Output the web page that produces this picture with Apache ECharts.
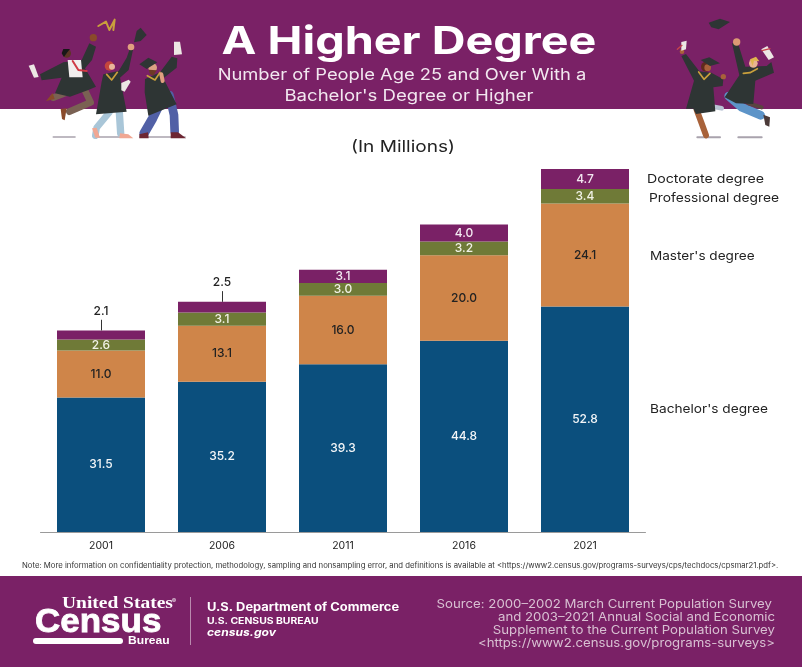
<!DOCTYPE html>
<html>
<head>
<meta charset="utf-8">
<title>A Higher Degree</title>
<script src="https://cdn.jsdelivr.net/npm/echarts@6/dist/echarts.min.js"></script>
<style>
  html, body { margin: 0; padding: 0; background: #fff; }
  #chart { width: 802px; height: 667px; }
</style>
</head>
<body>
<div id="chart"></div>
<script>
const years = ['2001', '2006', '2011', '2016', '2021'];
const bachelor = [31.5, 35.2, 39.3, 44.8, 52.8];
const master = [11.0, 13.1, 16.0, 20.0, 24.1];
const professional = [2.6, 3.1, 3.0, 3.2, 3.4];
const doctorate = [2.1, 2.5, 3.1, 4.0, 4.7];
// these two years have their doctorate label above the bar, on a leader line
const leaderYears = ['2001', '2006'];

const PURPLE = '#7a2166';
const NAVY = '#0b4f7d';
const ORANGE = '#cf8549';
const OLIVE = '#6f7a37';
const FONT = 'Inter, "Noto Sans", sans-serif';

const chart = echarts.init(document.getElementById('chart'));

function barSeries(name, values, color, labelColor) {
  return {
    name: name,
    type: 'bar',
    stack: 'total',
    barWidth: 88,
    itemStyle: { color: color },
    label: {
      show: true,
      position: 'inside',
      color: labelColor,
      fontFamily: FONT,
      fontSize: 12,
      fontWeight: 500,
      formatter: p => p.value.toFixed(1)
    },
    data: values
  };
}

function totalOf(i) {
  return bachelor[i] + master[i] + professional[i] + doctorate[i];
}

const topSeries = barSeries('Doctorate degree', doctorate, PURPLE, '#f3e9f1');
topSeries.data = doctorate.map((v, i) => {
  if (leaderYears.indexOf(years[i]) < 0) return v;
  return { value: v, label: { position: 'top', distance: 13, color: '#222' } };
});
topSeries.markLine = {
  silent: true,
  symbol: 'none',
  animation: false,
  label: { show: false },
  lineStyle: { color: '#333', width: 1, type: 'solid' },
  data: leaderYears.map(y => {
    const i = years.indexOf(y);
    return [{ coord: [y, totalOf(i)] }, { coord: [y, totalOf(i) + 2.5] }];
  })
};

// --- illustration helpers, coordinates are relative to a group origin
function shapes(ox, oy, list) {
  return { type: 'group', x: ox, y: oy, scaleX: 1 / 3, scaleY: 1 / 3, silent: true, children: list };
}
function poly(points, fill) {
  return { type: 'polygon', shape: { points: points }, style: { fill: fill } };
}
function line(points, stroke, width) {
  return {
    type: 'polyline',
    shape: { points: points },
    style: { stroke: stroke, lineWidth: width, fill: null, lineCap: 'round', lineJoin: 'round' }
  };
}
function dot(cx, cy, r, fill) {
  return { type: 'circle', shape: { cx: cx, cy: cy, r: r }, style: { fill: fill } };
}
// stretch widens the text, the original face is wider than any installed one
function text(x, y, str, size, color, stretch, opts) {
  return {
    type: 'text',
    x: x,
    y: y,
    scaleX: stretch || 1,
    silent: true,
    style: Object.assign({
      text: str,
      fontFamily: FONT,
      fontSize: size,
      fill: color,
      textAlign: 'left',
      textVerticalAlign: 'middle'
    }, opts || {})
  };
}

const GOWN = '#2e3534';
const GOLD = '#c9a03c';

const leftFigures = shapes(20, 15, [
  // shadows
  line([[100, 366], [165, 366]], '#a9a3ad', 5),
  line([[225, 366], [305, 366]], '#a9a3ad', 5),
  line([[360, 366], [495, 366]], '#a9a3ad', 5),
  // thrown tassel and cap
  line([[235, 33], [258, 20], [268, 45], [284, 14], [280, 45]], GOLD, 6),
  poly([[342, 82], [350, 48], [362, 38], [380, 60], [362, 78]], GOWN),
  // man
  line([[160, 225], [100, 248]], '#7a6153', 20),
  line([[180, 195], [212, 262], [148, 290]], '#7a6153', 20),
  poly([[78, 258], [98, 234], [104, 252]], '#8a4a2a'),
  poly([[122, 282], [140, 280], [134, 316], [126, 312]], '#8a4a2a'),
  poly([[60, 178], [130, 142], [185, 135], [208, 85], [228, 95], [216, 135], [195, 160], [228, 215], [205, 225], [150, 245], [105, 235], [125, 188], [65, 196]], GOWN),
  poly([[143, 135], [183, 135], [188, 187], [148, 187]], '#f1eeee'),
  line([[158, 138], [175, 165], [200, 168]], '#cf3a45', 6),
  dot(140, 115, 13, '#5c3524'),
  poly([[125, 115], [130, 102], [150, 102], [142, 112], [132, 126]], '#171717'),
  dot(220, 68, 11, '#8a4a2a'),
  poly([[26, 152], [42, 148], [56, 186], [42, 188]], '#ece7e4'),
  // woman
  line([[268, 292], [230, 338], [226, 362]], '#a9c6d8', 20),
  line([[298, 292], [302, 355]], '#a9c6d8', 22),
  poly([[216, 340], [230, 338], [240, 368], [226, 368]], '#f0a793'),
  poly([[300, 355], [325, 358], [340, 370], [298, 370]], '#f0a793'),
  poly([[250, 178], [296, 168], [320, 128], [330, 100], [340, 100], [326, 165], [300, 188], [320, 290], [228, 298], [245, 200]], GOWN),
  line([[260, 178], [275, 195], [292, 172]], GOLD, 5),
  dot(268, 153, 14, '#c4463c'),
  dot(276, 155, 9, '#e9b79b'),
  dot(333, 96, 10, '#e0a07f'),
  poly([[304, 204], [326, 194], [332, 200], [314, 230], [304, 226]], '#ece7e4'),
  // third graduate
  line([[432, 240], [398, 310], [372, 355]], '#5160a6', 28),
  line([[448, 240], [462, 300], [464, 350]], '#5160a6', 26),
  poly([[358, 358], [384, 352], [386, 370], [358, 370]], '#6d2632'),
  poly([[452, 352], [474, 352], [498, 370], [452, 370]], '#6d2632'),
  poly([[375, 192], [420, 172], [455, 125], [472, 130], [470, 158], [430, 190], [470, 268], [385, 302], [374, 232]], GOWN),
  line([[382, 182], [405, 195], [420, 172]], GOLD, 5),
  dot(398, 158, 13, '#dba283'),
  poly([[386, 164], [410, 166], [400, 182], [390, 178]], '#6d3a26'),
  poly([[358, 148], [385, 128], [412, 142], [380, 162]], GOWN),
  poly([[462, 80], [480, 80], [486, 118], [462, 120]], '#ece7e4'),
  line([[424, 178], [428, 198]], '#e0a07f', 12)
]);

const rightFigures = shapes(670, 10, [
  line([[82, 382], [150, 382]], '#a9a3ad', 6),
  line([[205, 382], [275, 382]], '#a9a3ad', 6),
  // thrown cap
  poly([[116, 38], [150, 26], [180, 36], [146, 58], [124, 52]], GOWN),
  // woman
  line([[80, 300], [95, 340], [108, 376]], '#a8623a', 18),
  line([[130, 290], [155, 295]], '#b9c3d3', 14),
  poly([[48, 296], [72, 212], [34, 138], [48, 132], [88, 184], [124, 188], [160, 208], [158, 228], [130, 232], [136, 304], [78, 312], [70, 296]], GOWN),
  line([[86, 186], [102, 208], [120, 190]], GOLD, 5),
  dot(108, 170, 15, '#5f2a1d'),
  dot(113, 173, 10, '#a8623a'),
  poly([[92, 150], [118, 142], [150, 160], [120, 168]], GOWN),
  dot(160, 200, 8, '#a8623a'),
  dot(36, 125, 7, '#a8623a'),
  poly([[34, 96], [50, 92], [48, 118], [34, 122]], '#ece7e4'),
  line([[22, 118], [36, 106]], '#c9454a', 4),
  // man
  line([[176, 258], [215, 292], [272, 316]], '#5d94c8', 26),
  poly([[280, 314], [300, 322], [298, 350], [286, 345]], '#4b3a38'),
  line([[235, 280], [275, 292]], '#5a4540', 12),
  poly([[164, 262], [208, 196], [186, 100], [204, 100], [226, 170], [290, 168], [304, 156], [312, 188], [256, 212], [250, 282], [198, 280]], GOWN),
  line([[220, 190], [240, 188], [262, 176]], GOLD, 5),
  dot(250, 160, 13, '#e8b591'),
  poly([[240, 148], [258, 140], [268, 154], [252, 152], [248, 168]], '#e0b54e'),
  dot(200, 96, 11, '#dc9a74'),
  poly([[274, 118], [292, 108], [312, 142], [296, 150]], '#ece7e4'),
  line([[276, 122], [300, 116]], '#c9454a', 4)
]);

const header = [
  { type: 'rect', silent: true, shape: { x: 0, y: 0, width: 802, height: 109 }, style: { fill: PURPLE } },
  leftFigures,
  rightFigures,
  text(409, 43, 'A Higher Degree', 38, '#fff', 1.23, { textAlign: 'center', fontWeight: 700 }),
  text(402, 75, 'Number of People Age 25 and Over With a', 16, '#f2e8f0', 1.146, { textAlign: 'center' }),
  text(409, 96, "Bachelor's Degree or Higher", 16, '#f2e8f0', 1.16, { textAlign: 'center' }),
  text(403, 147, '(In Millions)', 16, '#222', 1.19, { textAlign: 'center' })
];

const seriesLabels = [
  text(647, 179, 'Doctorate degree', 12, '#222', 1.18),
  text(649, 198, 'Professional degree', 12, '#222', 1.15),
  text(650, 256, "Master's degree", 12, '#222', 1.13),
  text(650, 409, "Bachelor's degree", 12, '#222', 1.14)
];

const sourceLines = [
  'Source: 2000–2002 March Current Population Survey',
  'and 2003–2021 Annual Social and Economic',
  'Supplement to the Current Population Survey',
  '<https://www2.census.gov/programs-surveys>'
];

const footer = [
  text(22, 566, 'Note: More information on confidentiality protection, methodology, sampling and nonsampling error, and definitions is available at <https://www2.census.gov/programs-surveys/cps/techdocs/cpsmar21.pdf>.', 7.4, '#333', 1.047),
  { type: 'rect', silent: true, shape: { x: 0, y: 576, width: 802, height: 91 }, style: { fill: PURPLE } },
  text(62, 604, 'United States', 16.5, '#fff', 1.18, { fontFamily: '"Liberation Serif", serif', fontWeight: 700 }),
  text(172, 601, '®', 6, '#fff'),
  text(35, 623, 'Census', 33, '#fff', 1.06, { fontFamily: '"Liberation Sans", sans-serif', fontWeight: 700, stroke: '#fff', lineWidth: 0.8 }),
  { type: 'rect', silent: true, shape: { x: 33, y: 638, width: 90, height: 6, r: 3 }, style: { fill: '#fff' } },
  text(128, 641, 'Bureau', 11, '#fff', 1.1, { fontFamily: '"Liberation Sans", sans-serif', fontWeight: 700 }),
  { type: 'rect', silent: true, shape: { x: 190, y: 597, width: 1, height: 48 }, style: { fill: '#b98aae' } },
  text(207, 608, 'U.S. Department of Commerce', 11.5, '#fff', 1.12, { fontWeight: 700 }),
  text(207, 621, 'U.S. CENSUS BUREAU', 8.8, '#fff', 1.18, { fontWeight: 700 }),
  text(207, 633, 'census.gov', 11, '#fff', 1.1, { fontWeight: 700, fontStyle: 'italic' })
].concat(sourceLines.map((s, i) => text(i === 0 ? 772 : 775, 605 + i * 12.8, s, 11.6, '#d8c0d2', 1.14, { textAlign: 'right' })));

chart.setOption({
  animation: false,
  backgroundColor: '#fff',
  grid: { left: 40.5, right: 156.5, top: 169, bottom: 135 },
  xAxis: {
    type: 'category',
    data: years,
    axisTick: { show: false },
    axisLine: { lineStyle: { color: '#9a9a9a', width: 1 } },
    axisLabel: { color: '#222', fontFamily: FONT, fontSize: 10.5, margin: 8 }
  },
  yAxis: {
    type: 'value',
    min: 0,
    max: 85,
    show: false
  },
  graphic: { elements: header.concat(seriesLabels, footer) },
  series: [
    barSeries("Bachelor's degree", bachelor, NAVY, '#f4f6f8'),
    barSeries("Master's degree", master, ORANGE, '#222'),
    barSeries('Professional degree', professional, OLIVE, '#f1f2e6'),
    topSeries
  ]
});
</script>
</body>
</html>
